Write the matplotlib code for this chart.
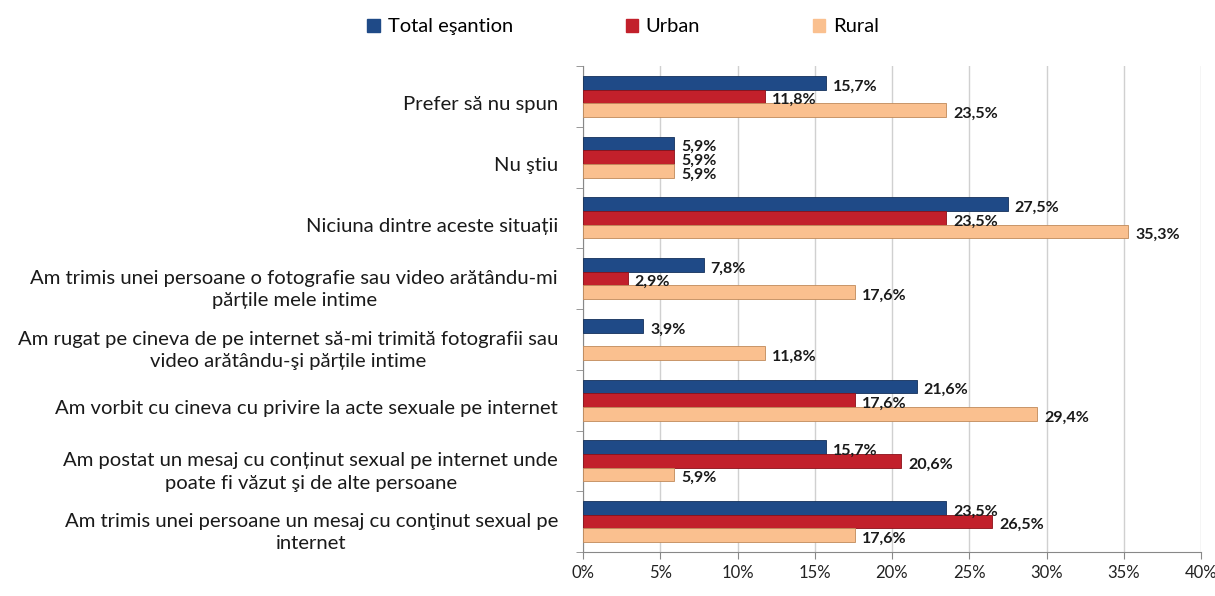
import matplotlib
matplotlib.use("Agg")
import matplotlib.pyplot as plt
from matplotlib.patches import Patch
import numpy as np

categories = [
    "Prefer să nu spun",
    "Nu ştiu",
    "Niciuna dintre aceste situații",
    "Am trimis unei persoane o fotografie sau video arătându-mi\npărțile mele intime",
    "Am rugat pe cineva de pe internet să-mi trimită fotografii sau\nvideo arătându-şi părțile intime",
    "Am vorbit cu cineva cu privire la acte sexuale pe internet",
    "Am postat un mesaj cu conținut sexual pe internet unde\npoate fi văzut şi de alte persoane",
    "Am trimis unei persoane un mesaj cu conţinut sexual pe\ninternet",
]
series_names = ["Total eşantion", "Urban", "Rural"]
total = [15.7, 5.9, 27.5, 7.8, 3.9, 21.6, 15.7, 23.5]
urban = [11.8, 5.9, 23.5, 2.9, 0.0, 17.6, 20.6, 26.5]
rural = [23.5, 5.9, 35.3, 17.6, 11.8, 29.4, 5.9, 17.6]
xticks = [0, 5, 10, 15, 20, 25, 30, 35, 40]

colors = ["#1F4A87", "#C2202B", "#FAC08F"]
edge_colors = ["#13305A", "#8A1018", "#C08A5A"]

plt.rcParams['font.family'] = ['Lato', 'DejaVu Sans']

fig = plt.figure(figsize=(12.15, 5.96), dpi=100)
ax = fig.add_axes([583 / 1215, 1 - 552 / 596, (1201 - 583) / 1215, (552 - 66) / 596])

n = len(categories)
y = np.arange(n)
h = 0.225
offsets = [-h, 0, h]
for vals, off, c, ec in zip([total, urban, rural], offsets, colors, edge_colors):
    for yi, v in zip(y, vals):
        if v <= 0:
            continue
        ax.barh(yi + off, v, height=h, color=c, edgecolor=ec, linewidth=0.6, zorder=3)
        ax.text(v + 0.45, yi + off + 0.06, f"{v:.1f}%".replace(".", ","),
                va="center", ha="left", fontsize=11.5, fontweight="bold",
                color="#1a1a1a", zorder=4)

ax.set_ylim(n - 0.5, -0.5)
ax.set_xlim(0, 40)
ax.set_xticks(xticks)
ax.set_xticklabels([f"{t}%" for t in xticks], fontsize=12, color="#222222")
# category labels sit slightly below the group centre, as in the reference
ax.set_yticks(y + 0.11)
ax.set_yticklabels(categories, fontsize=14.6, color="#1a1a1a",
                   multialignment="center", linespacing=1.4)
ax.set_yticks(np.arange(n + 1) - 0.5, minor=True)
ax.tick_params(axis="y", which="major", length=0, pad=18)
ax.tick_params(axis="y", which="minor", length=5, color="#888888")
ax.tick_params(axis="x", length=5, color="#888888", pad=4)
ax.grid(axis="x", color="#D0D0D0", linewidth=1, zorder=0)
for s in ["top", "right"]:
    ax.spines[s].set_visible(False)
ax.spines["left"].set_color("#888888")
ax.spines["bottom"].set_color("#888888")

handles = [Patch(facecolor=c, edgecolor=c) for c in colors]
fig.legend(handles, series_names, loc="center", bbox_to_anchor=(0.513, 0.955), ncol=3,
           frameon=False, fontsize=14.5, handlelength=0.6, handleheight=0.6,
           columnspacing=5.6, handletextpad=0.4)

fig.savefig("out.png", dpi=100)
